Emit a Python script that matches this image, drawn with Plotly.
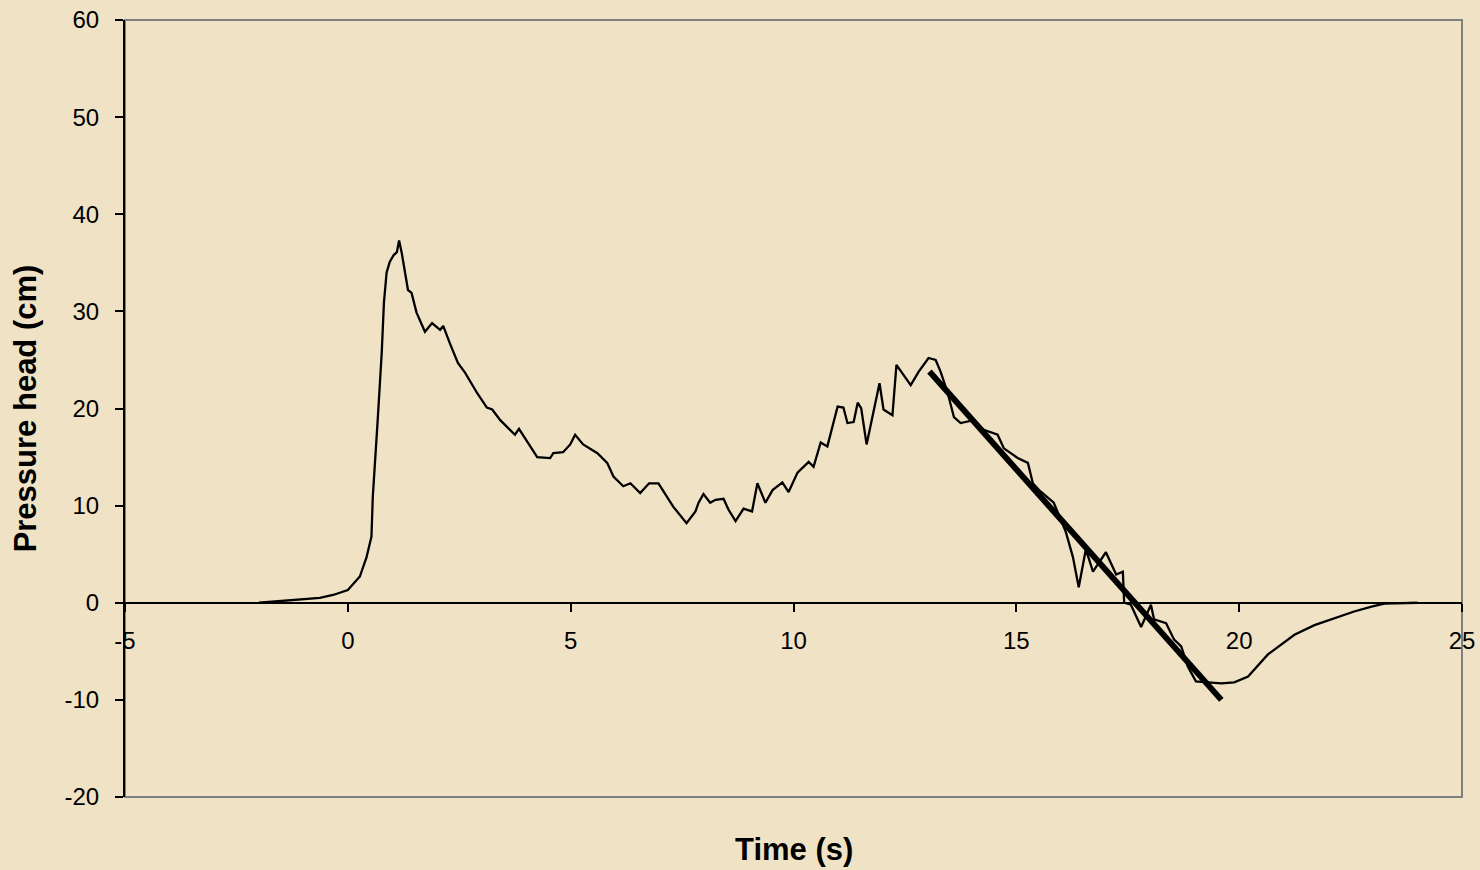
import plotly.graph_objects as go

# Measured pressure head trace
time_s = [-2.0, -1.46, -0.63, -0.33, 0.0, 0.27, 0.42, 0.53, 0.56, 0.67, 0.76, 0.81, 0.87, 0.94,
          1.03, 1.1, 1.15, 1.21, 1.28, 1.35, 1.43, 1.54, 1.73, 1.89, 2.07, 2.14, 2.29, 2.47, 2.63,
          2.9, 3.12, 3.24, 3.42, 3.75, 3.84, 4.04, 4.25, 4.54, 4.61, 4.83, 4.99, 5.1, 5.28, 5.6,
          5.82, 5.96, 6.18, 6.34, 6.56, 6.76, 6.97, 7.08, 7.3, 7.6, 7.8, 7.87, 7.98, 8.13, 8.25,
          8.43, 8.54, 8.7, 8.88, 9.07, 9.19, 9.37, 9.53, 9.75, 9.89, 10.09, 10.34, 10.45, 10.61,
          10.76, 10.99, 11.12, 11.21, 11.35, 11.44, 11.52, 11.64, 11.93, 12.02, 12.22, 12.31,
          12.63, 12.81, 13.03, 13.19, 13.3, 13.46, 13.6, 13.75, 14.04, 14.27, 14.58, 14.72, 15.03,
          15.26, 15.37, 15.51, 15.84, 15.93, 16.11, 16.27, 16.4, 16.56, 16.72, 16.85, 17.01,
          17.24, 17.39, 17.42, 17.57, 17.8, 18.02, 18.09, 18.36, 18.54, 18.7, 18.85, 19.03, 19.3,
          19.6, 19.89, 20.2, 20.65, 20.88, 21.24, 21.69, 22.13, 22.58, 22.97, 23.26, 24.0]
pressure_cm = [0.0, 0.2, 0.5, 0.8, 1.3, 2.7, 4.7, 6.8, 10.9, 18.8, 25.7, 30.9, 34.0, 35.1,
               35.8, 36.1, 37.3, 36.0, 34.3, 32.2, 31.9, 29.9, 27.9, 28.8, 28.1, 28.5, 26.7, 24.7, 23.7,
               21.6, 20.1, 19.9, 18.8, 17.3, 17.9, 16.5, 15.0, 14.9, 15.4, 15.5, 16.3, 17.3, 16.3, 15.4,
               14.4, 13.0, 12.0, 12.3, 11.3, 12.3, 12.3, 11.5, 9.9, 8.2, 9.4, 10.3, 11.2, 10.3, 10.6,
               10.7, 9.6, 8.4, 9.7, 9.4, 12.3, 10.3, 11.6, 12.4, 11.4, 13.4, 14.5, 14.0, 16.5,
               16.1, 20.2, 20.1, 18.5, 18.6, 20.6, 20.0, 16.3, 22.6, 19.9, 19.3, 24.5,
               22.4, 23.8, 25.2, 25.0, 23.8, 21.6, 19.1, 18.5, 18.8, 17.8, 17.3, 15.9, 14.9,
               14.4, 12.3, 11.6, 10.3, 9.3, 7.3, 4.7, 1.6, 5.5, 3.2, 4.1, 5.2,
               2.9, 3.2, 0.0, -0.2, -2.5, -0.2, -1.7, -2.1, -3.8, -4.5, -6.6, -8.1, -8.2,
               -8.3, -8.2, -7.6, -5.3, -4.5, -3.3, -2.3, -1.6, -0.9, -0.4, -0.1, 0.0]

# Linear fit over the draining phase
fit_time = [13.05, 19.6]
fit_pressure = [23.8, -10.0]

x_ticks = [-5, 0, 5, 10, 15, 20, 25]
y_ticks = [-20, -10, 0, 10, 20, 30, 40, 50, 60]

BG = "#f0e2c5"
FONT = "Liberation Sans, Arial, sans-serif"

fig = go.Figure()
fig.add_trace(go.Scatter(x=time_s, y=pressure_cm, mode="lines",
                         line=dict(color="black", width=2.3), showlegend=False))
fig.add_trace(go.Scatter(x=fit_time, y=fit_pressure, mode="lines",
                         line=dict(color="black", width=6), showlegend=False))

# grey frame around plot area
fig.add_shape(type="rect", xref="paper", yref="paper", x0=0, x1=1, y0=0, y1=1,
              line=dict(color="#808080", width=2), layer="below")

fig.update_layout(
    width=1480, height=870,
    margin=dict(l=125, r=18, t=20, b=73, autoexpand=False),
    paper_bgcolor=BG, plot_bgcolor=BG,
    font=dict(family=FONT, color="black", size=24),
    xaxis=dict(range=[-5, 25], tickvals=x_ticks, ticktext=[str(v) for v in x_ticks],
               anchor="free", position=0.25, showline=True, linecolor="black", linewidth=2,
               ticks="outside", ticklen=8, tickwidth=2, tickcolor="black",
               showgrid=False, zeroline=False, tickfont=dict(size=24),
               ticklabelstandoff=8, automargin=False),
    yaxis=dict(range=[-20, 60], tickvals=y_ticks, ticktext=[str(v) for v in y_ticks],
               showline=True, linecolor="black", linewidth=2,
               ticks="outside", ticklen=8, tickwidth=2, tickcolor="black",
               showgrid=False, zeroline=False, tickfont=dict(size=24),
               ticklabelstandoff=11, automargin=False,
               title=dict(text="<b>Pressure head (cm)</b>", font=dict(size=31), standoff=19)),
)
fig.add_annotation(text="<b>Time (s)</b>", xref="paper", yref="paper", x=0.5, y=0,
                   yshift=-52, showarrow=False, font=dict(size=31), yanchor="middle")

fig.write_html("out.html")
